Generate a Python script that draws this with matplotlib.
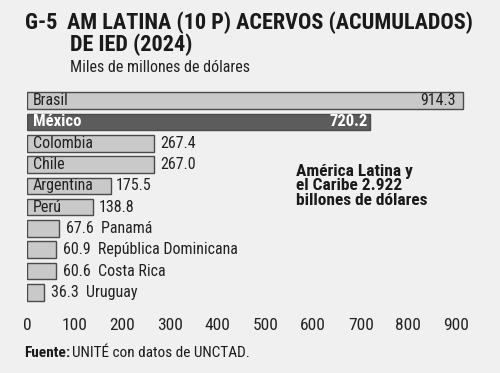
import matplotlib.pyplot as plt

plt.rcParams['font.family'] = ['Roboto Condensed', 'Roboto', 'DejaVu Sans']

# --- DATA ---
paises = ['Brasil', 'México', 'Colombia', 'Chile', 'Argentina', 'Perú',
          'Panamá', 'República Dominicana', 'Costa Rica', 'Uruguay']
acervos = [914.3, 720.2, 267.4, 267.0, 175.5, 138.8, 67.6, 60.9, 60.6, 36.3]
ticks = [0, 100, 200, 300, 400, 500, 600, 700, 800, 900]

BG = '#f0f0f0'
INK = '#1a1a1a'
W, H = 500, 373

fig = plt.figure(figsize=(5, 3.73), dpi=100, facecolor=BG)


def fx(px):
    return px / W


def fy(py):
    return 1 - py / H


# axes placed in pixel terms: 0 at x=27, 100 units ~ 47.7 px
x0, x1 = 27, 480
ax = fig.add_axes([fx(x0), fy(303), fx(x1 - x0), (303 - 90) / H])
ax.set_facecolor(BG)
ax.set_xlim(0, (x1 - x0) / 0.4767)
ax.set_ylim(9.5, -0.5)

ypos = list(range(len(paises)))
colores = ['#5c5c5c' if p == 'México' else '#c9c9c9' for p in paises]
ax.barh(ypos, acervos, height=0.78, color=colores, edgecolor='#4a4a4a', linewidth=1)

for i, (p, v) in enumerate(zip(paises, acervos)):
    if p == 'México':
        ax.annotate(p, (0, i), xytext=(4, 0), textcoords='offset points',
                    va='center', ha='left', fontsize=12, fontweight='bold', color='white')
        ax.annotate(f'{v:.1f}', (v, i), xytext=(-2, 0), textcoords='offset points',
                    va='center', ha='right', fontsize=12, fontweight='bold', color='white')
    elif p == 'Brasil':
        ax.annotate(p, (0, i), xytext=(4, 0), textcoords='offset points',
                    va='center', ha='left', fontsize=11.5, color='#222222')
        ax.annotate(f'{v:.1f}', (v, i), xytext=(-5, 0), textcoords='offset points',
                    va='center', ha='right', fontsize=11.5, color='#222222')
    elif v > 100:
        ax.annotate(p, (0, i), xytext=(4, 0), textcoords='offset points',
                    va='center', ha='left', fontsize=11.5, color='#222222')
        ax.annotate(f'{v:.1f}', (v, i), xytext=(4, 0), textcoords='offset points',
                    va='center', ha='left', fontsize=11.5, color='#222222')
    else:
        ax.annotate(f'{v:.1f}  {p}', (v, i), xytext=(5, 0), textcoords='offset points',
                    va='center', ha='left', fontsize=11.5, color='#222222')

ax.set_xticks(ticks)
ax.set_xticklabels([str(t) for t in ticks], fontsize=12.5, color='#222222')
ax.tick_params(axis='x', length=0, pad=11)
ax.set_yticks([])
for s in ax.spines.values():
    s.set_visible(False)

# title block
fig.text(fx(25), fy(23), 'G-5', fontsize=16, fontweight='bold', va='center', ha='left', color=INK)
fig.text(fx(67), fy(23), 'AM LATINA (10 P) ACERVOS (ACUMULADOS)', fontsize=16,
         fontweight='bold', va='center', ha='left', color=INK)
fig.text(fx(70), fy(45), 'DE IED (2024)', fontsize=16, fontweight='bold',
         va='center', ha='left', color=INK)
fig.text(fx(70), fy(68), 'Miles de millones de dólares', fontsize=11.5,
         va='center', ha='left', color='#222222')

# total note
fig.text(fx(296), fy(186), 'América Latina y\nel Caribe 2.922\nbillones de dólares',
         fontsize=12.5, fontweight='bold', va='center', ha='left', linespacing=0.98,
         color=INK)

# source
t1 = fig.text(fx(24), fy(353), 'Fuente:', fontsize=11, fontweight='bold',
              va='center', ha='left', color=INK)
fig.add_artist(plt.Annotation('UNITÉ con datos de UNCTAD.', xy=(1, 0.5), xycoords=t1,
                              xytext=(1.5, 0), textcoords='offset points',
                              va='center', ha='left', fontsize=11, color=INK))

fig.savefig('out.png', dpi=100, facecolor=BG)
